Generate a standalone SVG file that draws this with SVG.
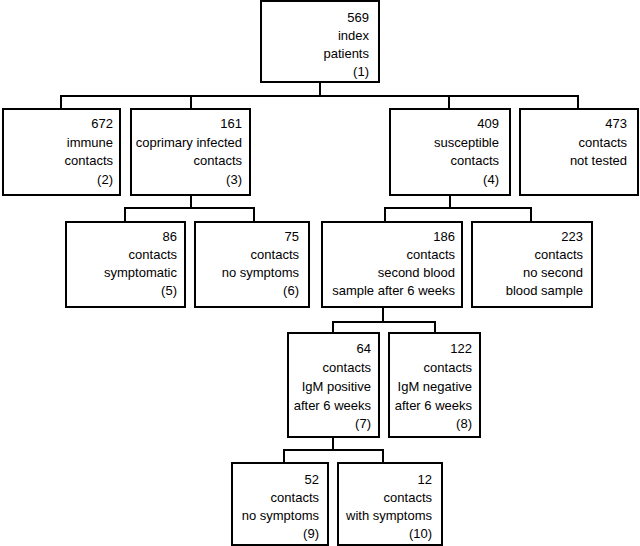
<svg xmlns="http://www.w3.org/2000/svg" width="640" height="546" viewBox="0 0 640 546">
<style>
rect{fill:#fff;stroke:#000;stroke-width:2}
.c path{fill:none;stroke:#000;stroke-width:2}
text{font-family:"Liberation Sans",Arial,sans-serif;font-size:13px;fill:#000;text-anchor:end}
</style>
<rect x="0" y="0" width="640" height="546" style="stroke:none"/>
<g class="c" id="connectors">
<path d="M320,82V96M61,109V96H578V109M191,96V109M449,96V109"/>
<path d="M191,195V208M125,222V208H254V222"/>
<path d="M450,195V208M385,222V208H531V222"/>
<path d="M383,307V322M333,333V322H435V333"/>
<path d="M333,437V450M284,463V450H383V463"/>
</g>
<g id="n1"><rect x="261" y="1" width="118" height="81"/>
<text x="369" y="22">569</text><text x="369" y="40">index</text><text x="369" y="58">patients</text><text x="369" y="76">(1)</text></g>
<g id="n2"><rect x="3" y="109" width="117" height="86"/>
<text x="113" y="128">672</text><text x="113" y="146.5">immune</text><text x="113" y="165">contacts</text><text x="113" y="183.5">(2)</text></g>
<g id="n3"><rect x="131" y="109" width="119" height="86"/>
<text x="242" y="128">161</text><text x="242" y="146.5">coprimary infected</text><text x="242" y="165">contacts</text><text x="242" y="183.5">(3)</text></g>
<g id="n4"><rect x="390" y="109" width="120" height="86"/>
<text x="499" y="128">409</text><text x="499" y="146.5">susceptible</text><text x="499" y="165">contacts</text><text x="499" y="183.5">(4)</text></g>
<g id="n5"><rect x="520" y="109" width="118" height="86"/>
<text x="627" y="128">473</text><text x="627" y="146.5">contacts</text><text x="627" y="165">not tested</text></g>
<g id="n6"><rect x="66" y="222" width="119" height="85"/>
<text x="177" y="241">86</text><text x="177" y="259">contacts</text><text x="177" y="277">symptomatic</text><text x="177" y="295">(5)</text></g>
<g id="n7"><rect x="195" y="222" width="114" height="85"/>
<text x="299" y="241">75</text><text x="299" y="259">contacts</text><text x="299" y="277">no symptoms</text><text x="299" y="295">(6)</text></g>
<g id="n8"><rect x="322" y="222" width="140" height="85"/>
<text x="455" y="241">186</text><text x="455" y="259">contacts</text><text x="455" y="277">second blood</text><text x="455" y="295">sample after 6 weeks</text></g>
<g id="n9"><rect x="472" y="222" width="120" height="85"/>
<text x="583" y="241">223</text><text x="583" y="259">contacts</text><text x="583" y="277">no second</text><text x="583" y="295">blood sample</text></g>
<g id="n10"><rect x="288" y="333" width="91" height="104"/>
<text x="371" y="353">64</text><text x="371" y="372">contacts</text><text x="371" y="391">IgM positive</text><text x="371" y="410">after 6 weeks</text><text x="371" y="428">(7)</text></g>
<g id="n11"><rect x="389" y="333" width="91" height="104"/>
<text x="472" y="353">122</text><text x="472" y="372">contacts</text><text x="472" y="391">IgM negative</text><text x="472" y="410">after 6 weeks</text><text x="472" y="428">(8)</text></g>
<g id="n12"><rect x="232" y="463" width="96" height="82"/>
<text x="319" y="484">52</text><text x="319" y="502">contacts</text><text x="319" y="520">no symptoms</text><text x="319" y="538">(9)</text></g>
<g id="n13"><rect x="338" y="463" width="104" height="82"/>
<text x="432" y="484">12</text><text x="432" y="502">contacts</text><text x="432" y="520">with symptoms</text><text x="432" y="538">(10)</text></g>
</svg>
